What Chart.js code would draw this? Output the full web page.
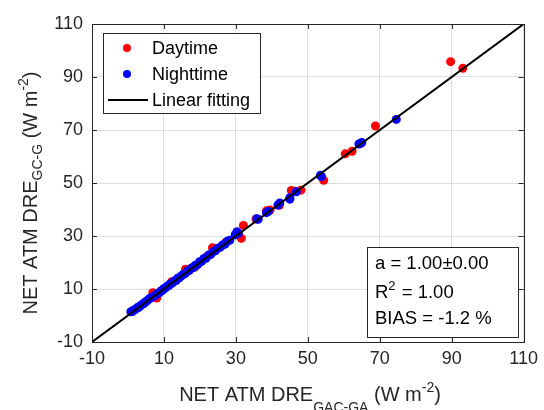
<!DOCTYPE html>
<html>
<head>
<meta charset="utf-8">
<script src="https://cdn.jsdelivr.net/npm/chart.js@4.4.1/dist/chart.umd.min.js"></script>
<style>
html,body{margin:0;padding:0;background:#fff;}
canvas{display:block;}
</style>
</head>
<body>
<canvas id="c" width="544" height="410"></canvas>
<script>
// ---- data ----
const dayX = [89.7, 93.1, 68.8, 60.4, 62.3, 64.8, 54.4, 48.1, 45.4, 39.5, 38.5, 32.1, 31.5, 23.5, 22.0, 16.0, 6.9, 8.0, 2.6, 12.1, 18.6, 27.2, 29.9, 35.6, 42.1, 46.5];
const dayY = [95.8, 93.3, 71.5, 61.0, 62.0, 65.0, 51.0, 47.3, 47.2, 39.8, 39.5, 34.0, 29.1, 25.6, 22.3, 17.5, 8.6, 6.6, 2.9, 12.7, 18.3, 27.6, 30.6, 36.4, 41.6, 46.9];
const nightX = [0.8, 1.2, 1.5, 1.9, 2.3, 2.6, 3.0, 3.4, 3.7, 4.1, 4.5, 4.8, 5.2, 5.6, 6.0, 6.5, 7.1, 7.6, 8.2, 8.7, 9.1, 9.6, 10.0, 10.5, 10.9, 11.4, 11.8, 12.3, 12.9, 13.4, 13.8, 14.3, 14.9, 15.4, 15.9, 16.5, 17.0, 17.6, 18.1, 18.7, 19.3, 19.9, 20.5, 21.1, 21.7, 22.4, 23.0, 23.7, 24.3, 25.0, 25.6, 26.3, 27.0, 27.6, 28.3, 29.8, 30.7, 30.3, 35.8, 36.2, 38.5, 39.0, 41.7, 42.2, 45.0, 45.0, 46.8, 53.5, 53.8, 64.2, 65.0, 74.6];
const nightY = [1.4, 1.5, 2.0, 2.1, 2.6, 2.9, 3.1, 3.6, 4.0, 4.3, 4.6, 5.1, 5.4, 5.9, 6.3, 6.8, 7.2, 7.6, 8.3, 8.6, 9.2, 9.5, 10.2, 10.4, 11.1, 11.3, 12.0, 12.2, 13.0, 13.2, 14.1, 14.2, 15.0, 15.6, 15.8, 16.8, 17.0, 17.9, 18.0, 19.0, 19.1, 20.3, 20.4, 21.5, 21.6, 22.8, 23.0, 24.1, 24.4, 25.4, 25.7, 26.6, 27.0, 28.0, 28.4, 30.4, 31.0, 31.6, 36.5, 36.3, 38.8, 39.2, 41.7, 42.5, 44.5, 43.9, 46.7, 52.9, 52.4, 64.7, 65.3, 74.0];
const fitSlope = 1.00;
const fitIntercept = 0.00;
const fitRange = [-10, 110];
const axisTicks = [-10, 10, 30, 50, 70, 90, 110];
const legendLabels = ['Daytime', 'Nighttime', 'Linear fitting'];
const statsLines = ['a = 1.00\u00B10.00', 'R|2| = 1.00', 'BIAS = -1.2 %'];

const toPts = (xs, ys) => xs.map((x, i) => ({x: x, y: ys[i]}));
const fitPts = fitRange.map(x => ({x: x, y: fitSlope * x + fitIntercept}));

const FONT = '"Liberation Sans", Arial, Helvetica, sans-serif';
const TXT = '#262626';

function drawRich(ctx, segs, cx, baseY) {
  let w = 0;
  segs.forEach(s => { ctx.font = s.size + 'px ' + FONT; w += ctx.measureText(s.t).width; });
  let x = cx - w / 2;
  ctx.textAlign = 'left';
  ctx.textBaseline = 'alphabetic';
  segs.forEach(s => {
    ctx.font = s.size + 'px ' + FONT;
    ctx.fillText(s.t, x, baseY + s.dy);
    x += ctx.measureText(s.t).width;
  });
}

const overlay = {
  id: 'overlay',
  afterDraw(chart) {
    const ctx = chart.ctx;
    const a = chart.chartArea;
    const xs = chart.scales.x, ys = chart.scales.y;
    ctx.save();
    ctx.strokeStyle = TXT;
    ctx.lineWidth = 1;
    ctx.strokeRect(Math.round(a.left) + 0.5, Math.round(a.top) + 0.5, Math.round(a.right - a.left), Math.round(a.bottom - a.top));
    ctx.beginPath();
    axisTicks.forEach(v => {
      const px = Math.round(xs.getPixelForValue(v)) + 0.5;
      ctx.moveTo(px, a.bottom); ctx.lineTo(px, a.bottom - 5);
      ctx.moveTo(px, a.top); ctx.lineTo(px, a.top + 5);
      const py = Math.round(ys.getPixelForValue(v)) + 0.5;
      ctx.moveTo(a.left, py); ctx.lineTo(a.left + 5, py);
      ctx.moveTo(a.right, py); ctx.lineTo(a.right - 5, py);
    });
    ctx.stroke();

    // legend
    const lx = a.left + 11, ly = a.top + 9, lw = 157, lh = 80;
    ctx.fillStyle = '#fff';
    ctx.fillRect(lx, ly, lw, lh);
    ctx.strokeStyle = TXT;
    ctx.strokeRect(lx + 0.5, ly + 0.5, lw, lh);
    ctx.font = '18px ' + FONT;
    ctx.textAlign = 'left';
    ctx.textBaseline = 'middle';
    const rowsY = [ly + 15, ly + 41, ly + 67];
    const cols = ['#ff0000', '#0000ff'];
    for (let i = 0; i < 2; i++) {
      ctx.fillStyle = cols[i];
      ctx.beginPath(); ctx.arc(lx + 24, rowsY[i], 4, 0, Math.PI * 2); ctx.fill();
    }
    ctx.strokeStyle = '#000'; ctx.lineWidth = 2;
    ctx.beginPath(); ctx.moveTo(lx + 5, rowsY[2]); ctx.lineTo(lx + 45, rowsY[2]); ctx.stroke();
    ctx.fillStyle = '#000';
    legendLabels.forEach((t, i) => ctx.fillText(t, lx + 49, rowsY[i] + 1));

    // stats box
    const sx = 367, sy = 247, sw = 151, sh = 90;
    ctx.fillStyle = '#fff';
    ctx.fillRect(sx, sy, sw, sh);
    ctx.lineWidth = 1; ctx.strokeStyle = TXT;
    ctx.strokeRect(sx + 0.5, sy + 0.5, sw, sh);
    ctx.fillStyle = '#000';
    ctx.textBaseline = 'alphabetic';
    const sBase = [sy + 22, sy + 51, sy + 77];
    statsLines.forEach((t, i) => {
      const parts = t.split('|');
      let x = sx + 8;
      parts.forEach((p, j) => {
        const sup = (j % 2 === 1);
        ctx.font = (sup ? 13 : 18.5) + 'px ' + FONT;
        ctx.fillText(p, x, sBase[i] + (sup ? -8 : 0));
        x += ctx.measureText(p).width + (sup ? 1 : 0);
      });
    });

    // axis titles
    ctx.fillStyle = TXT;
    drawRich(ctx, [
      {t: 'NET ATM DRE', size: 20, dy: 0},
      {t: 'GAC-GA', size: 14, dy: 11},
      {t: ' (W m', size: 20, dy: 0},
      {t: '-2', size: 14, dy: -9},
      {t: ')', size: 20, dy: 0}
    ], 310, 401);
    ctx.save();
    ctx.translate(37, 193);
    ctx.rotate(-Math.PI / 2);
    drawRich(ctx, [
      {t: 'NET ATM DRE', size: 20, dy: 0},
      {t: 'GC-G', size: 14, dy: 5},
      {t: ' (W m', size: 20, dy: 0},
      {t: '-2', size: 14, dy: -9},
      {t: ')', size: 20, dy: 0}
    ], 0, 0);
    ctx.restore();
    ctx.restore();
  }
};

const gridCfg = { color: '#dfdfdf', lineWidth: 1, drawTicks: false };

new Chart(document.getElementById('c'), {
  type: 'scatter',
  data: {
    datasets: [
      { label: legendLabels[2], type: 'line', data: fitPts, borderColor: '#000', borderWidth: 2, pointRadius: 0, fill: false, order: 0 },
      { label: legendLabels[1], data: toPts(nightX, nightY), backgroundColor: '#0000ff', borderWidth: 0, pointRadius: 4.5, order: 1 },
      { label: legendLabels[0], data: toPts(dayX, dayY), backgroundColor: '#ff0000', borderWidth: 0, pointRadius: 4.5, order: 2 }
    ]
  },
  options: {
    responsive: false,
    devicePixelRatio: 1,
    animation: false,
    layout: { padding: { left: 0, top: 24, right: 16, bottom: 0 } },
    plugins: { legend: { display: false }, tooltip: { enabled: false } },
    scales: {
      x: {
        type: 'linear', min: -10, max: 110,
        afterBuildTicks: s => { s.ticks = axisTicks.map(v => ({value: v})); },
        ticks: { color: TXT, font: { family: FONT, size: 18 }, padding: 6, maxRotation: 0, autoSkip: false },
        grid: gridCfg,
        border: { display: false },
        afterFit: s => { s.height = 68; }
      },
      y: {
        type: 'linear', min: -10, max: 110,
        afterBuildTicks: s => { s.ticks = axisTicks.map(v => ({value: v})); },
        ticks: { color: TXT, font: { family: FONT, size: 18 }, padding: 9, autoSkip: false },
        grid: gridCfg,
        border: { display: false },
        afterFit: s => { s.width = 92; }
      }
    }
  },
  plugins: [overlay]
});
</script>
</body>
</html>
